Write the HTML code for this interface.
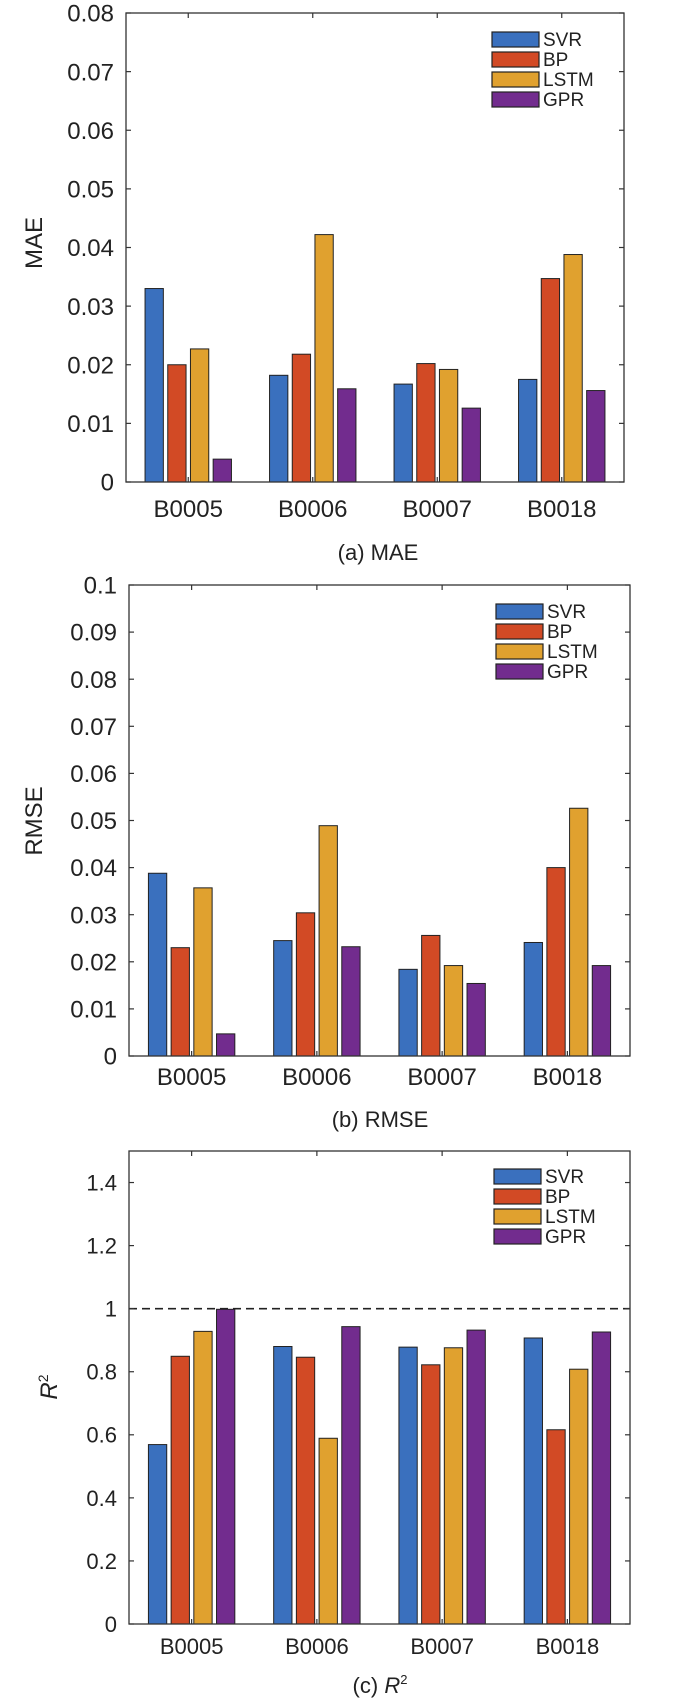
<!DOCTYPE html>
<html><head><meta charset="utf-8"><style>
html,body{margin:0;padding:0;background:#fff;}
svg{display:block;font-family:"Liberation Sans",Arial,sans-serif;}
</style></head><body>
<svg id="chart" width="700" height="1704" viewBox="0 0 700 1704" xmlns="http://www.w3.org/2000/svg"></svg>
<script>
const categories = ["B0005","B0006","B0007","B0018"];
const seriesNames = ["SVR","BP","LSTM","GPR"];
const maeSVR = [0.0330,0.0182,0.0167,0.0175];
const maeBP = [0.0200,0.0218,0.0202,0.0347];
const maeLSTM = [0.0227,0.0422,0.0192,0.0388];
const maeGPR = [0.0039,0.0159,0.0126,0.0156];
const rmseSVR = [0.0388,0.0245,0.0184,0.0241];
const rmseBP = [0.0230,0.0304,0.0256,0.0400];
const rmseLSTM = [0.0357,0.0489,0.0192,0.0526];
const rmseGPR = [0.0047,0.0232,0.0154,0.0192];
const r2SVR = [0.569,0.880,0.878,0.907];
const r2BP = [0.849,0.846,0.822,0.616];
const r2LSTM = [0.928,0.589,0.876,0.808];
const r2GPR = [0.998,0.943,0.932,0.926];
const maeTicks = ["0","0.01","0.02","0.03","0.04","0.05","0.06","0.07","0.08"];
const rmseTicks = ["0","0.01","0.02","0.03","0.04","0.05","0.06","0.07","0.08","0.09","0.1"];
const r2Ticks = ["0","0.2","0.4","0.6","0.8","1","1.2","1.4"];

const colors = ["#3A70BE","#D24A25","#E0A12F","#722C8E"];
const svg = document.getElementById('chart');
const NS = "http://www.w3.org/2000/svg";
function mk(tag, attrs, parent){const e=document.createElementNS(NS,tag);for(const k in attrs)e.setAttribute(k,attrs[k]);(parent||svg).appendChild(e);return e;}

function panel(cfg){
  const g = mk('g',{});
  
  
  const {x0,x1,y0,y1,ymax,tickVals,tickLabels,data} = cfg;
  const X = i => x0 + (x1-x0)*(i+0.5)/categories.length;
  const Y = v => y1 - (y1-y0)*v/ymax;
  // bars
  data.forEach((vals,s)=>{
    vals.forEach((v,i)=>{
      const cx = X(i) - 2*22.7 + s*22.7 + 2.2;
      const r = mk('rect',{x:cx, y:Y(v), width:18.3, height:y1-Y(v), fill:colors[s], stroke:"#222", "stroke-width":1},g);
      
      
    });
  });
  if(cfg.refLine!==undefined){
    const l = mk('line',{x1:x0,x2:x1,y1:Y(cfg.refLine),y2:Y(cfg.refLine),stroke:"#222","stroke-width":1.6,"stroke-dasharray":"8,5"},g);
    
    
  }
  // axes box
  const box = mk('rect',{x:x0,y:y0,width:x1-x0,height:y1-y0,fill:"none",stroke:"#333","stroke-width":1.3},g);
  
  
  tickVals.forEach((v,k)=>{
    const y = Y(v);
    mk('line',{x1:x0,x2:x0+5,y1:y,y2:y,stroke:"#333","stroke-width":1.2},g);
    mk('line',{x1:x1,x2:x1-5,y1:y,y2:y,stroke:"#333","stroke-width":1.2},g);
    const t = mk('text',{x:x0-12,y:y+cfg.fs*0.36,"text-anchor":"end","font-size":cfg.fs,fill:"#222"},g);
    t.textContent = tickLabels[k];
    
    
  });
  categories.forEach((c,i)=>{
    mk('line',{x1:X(i),x2:X(i),y1:y1,y2:y1-5,stroke:"#333","stroke-width":1.2},g);
    mk('line',{x1:X(i),x2:X(i),y1:y0,y2:y0+5,stroke:"#333","stroke-width":1.2},g);
    const t = mk('text',{x:X(i),y:cfg.xlabY,"text-anchor":"middle","font-size":cfg.fs,fill:"#222"},g);
    t.textContent = c;
    
    
  });
  // y title
  const yt = mk('text',{x:cfg.ytX,y:cfg.ytY,"text-anchor":"middle","font-size":24,fill:"#222",transform:`rotate(-90 ${cfg.ytX} ${cfg.ytY})`},g);
  
  
  if(cfg.r2){
    yt.setAttribute('font-style','italic');
    yt.innerHTML = 'R<tspan font-size="14" dy="-9" font-style="normal">2</tspan>';
  } else yt.textContent = cfg.ytitle;
  // caption
  const cap = mk('text',{x:cfg.capX,y:cfg.capY,"text-anchor":"middle","font-size":22,fill:"#222"},g);
  
  
  if(cfg.r2) cap.innerHTML = '(c) <tspan font-style="italic">R</tspan><tspan font-size="13" dy="-9">2</tspan>';
  else cap.textContent = cfg.caption;
  // legend
  seriesNames.forEach((n,s)=>{
    const ly = cfg.legY + s*20;
    const sw = mk('rect',{x:cfg.legX,y:ly,width:47,height:15,fill:colors[s],stroke:"#222","stroke-width":1.2},g);
    
    
    const t = mk('text',{x:cfg.legX+51,y:ly+14,"font-size":19,fill:"#222"},g);
    t.textContent = n;
    
    
  });
}

panel({id:'mae',x0:126,x1:624,y0:13,y1:482,ymax:0.08,
  tickVals:maeTicks.map(Number),tickLabels:maeTicks,data:[maeSVR,maeBP,maeLSTM,maeGPR],
  fs:24,xlabY:517,ytX:42,ytY:243,ytitle:'MAE',capX:378,capY:560,caption:'(a) MAE',legX:492,legY:32});
panel({id:'rmse',x0:129,x1:630,y0:585,y1:1056,ymax:0.1,
  tickVals:rmseTicks.map(Number),tickLabels:rmseTicks,data:[rmseSVR,rmseBP,rmseLSTM,rmseGPR],
  fs:24,xlabY:1085,ytX:42,ytY:821,ytitle:'RMSE',capX:380,capY:1127,caption:'(b) RMSE',legX:496,legY:604});
panel({id:'r2',x0:129,x1:630,y0:1151,y1:1624,ymax:1.5,
  tickVals:r2Ticks.map(Number),tickLabels:r2Ticks,data:[r2SVR,r2BP,r2LSTM,r2GPR],
  fs:22,xlabY:1654,ytX:57,ytY:1387,r2:true,capX:380,capY:1693,legX:494,legY:1169,refLine:1});
</script>
</body></html>
